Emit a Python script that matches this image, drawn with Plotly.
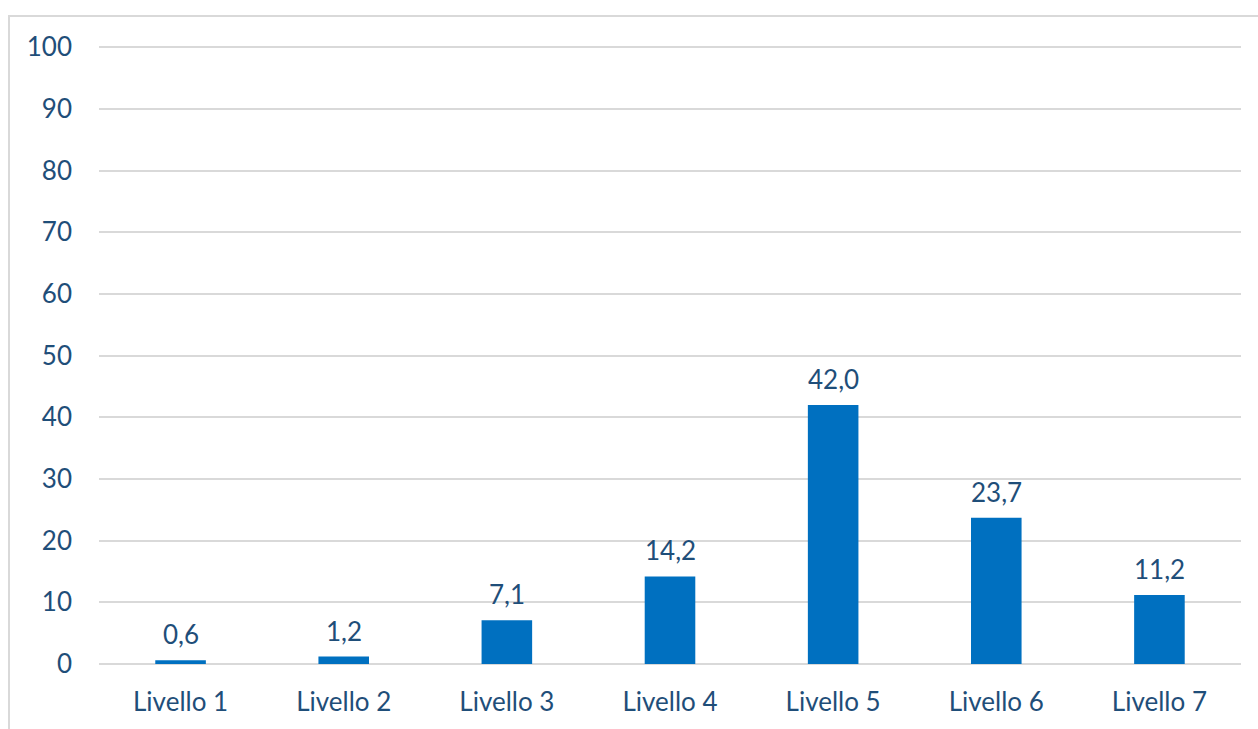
import plotly.graph_objects as go

categories = ["Livello 1", "Livello 2", "Livello 3", "Livello 4", "Livello 5", "Livello 6", "Livello 7"]
values = [0.6, 1.2, 7.1, 14.2, 42.0, 23.7, 11.2]
y_ticks = [0, 10, 20, 30, 40, 50, 60, 70, 80, 90, 100]

TXT = "#1F4E79"
FONT = "Lato"
FS = 26
W, H = 1258, 729
ml, mr, mt, mb = 99, 17, 46, 65
pw, ph = W - ml - mr, H - mt - mb

fig = go.Figure(go.Bar(x=categories, y=values, marker_color="#0070C0", marker_line_width=0, width=0.31))

for c, v in zip(categories, values):
    fig.add_annotation(x=c, y=v, text=f"{v:.1f}".replace(".", ","), showarrow=False,
                       yanchor="bottom", yshift=8, font=dict(family=FONT, size=FS, color=TXT))

fig.add_shape(type="rect", xref="paper", yref="paper",
              x0=(9 - ml) / pw, x1=1.2, y0=-0.3, y1=1 + (mt - 16) / ph,
              line=dict(color="#D9D9D9", width=2), layer="below")

fig.update_layout(
    width=W, height=H, margin=dict(l=ml, r=mr, t=mt, b=mb),
    plot_bgcolor="white", paper_bgcolor="white", showlegend=False,
    font=dict(family=FONT, size=FS, color=TXT),
    xaxis=dict(showgrid=False, showline=False, ticks="", ticklabelstandoff=20,
               tickfont=dict(family=FONT, size=FS, color=TXT)),
    yaxis=dict(range=[0, 100.2], tickvals=y_ticks, showgrid=True, gridcolor="#D9D9D9", gridwidth=2,
               zeroline=True, zerolinecolor="#D9D9D9", zerolinewidth=2, showline=False, ticks="",
               ticklabelstandoff=26, tickfont=dict(family=FONT, size=FS, color=TXT)),
)

fig.write_html("out.html", config={"displayModeBar": False},
               post_script="document.body.style.margin='0';")
